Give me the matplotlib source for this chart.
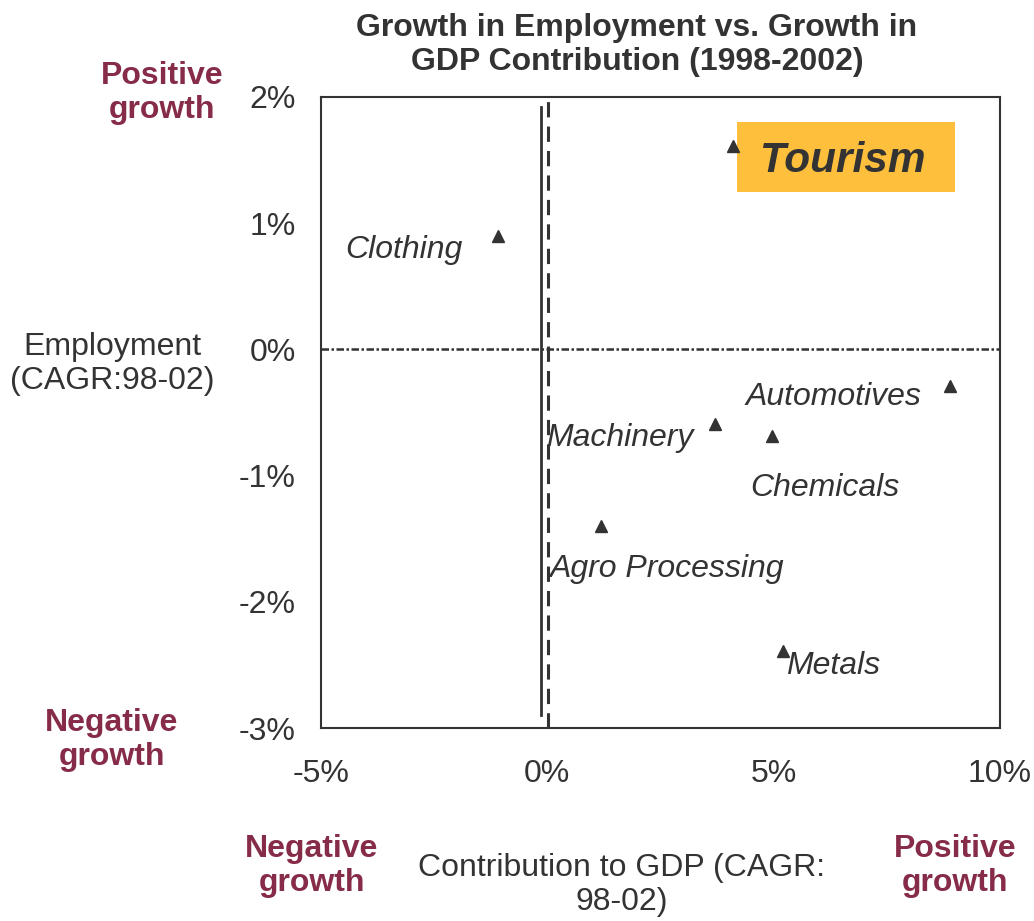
import matplotlib.pyplot as plt
from matplotlib.patches import Rectangle

plt.rcParams['font.family'] = ['Liberation Sans', 'DejaVu Sans']

# sector data: GDP contribution CAGR (%) vs employment CAGR (%)
sectors = ['Tourism', 'Clothing', 'Automotives', 'Machinery', 'Chemicals', 'Agro Processing', 'Metals']
gdp = [4.1, -1.1, 8.9, 3.7, 4.97, 1.19, 5.2]
emp = [1.61, 0.9, -0.29, -0.59, -0.69, -1.40, -2.39]

# label anchor positions (data coords)
lab_x = [6.53, -1.88, 4.39, -0.04, 4.48, 0.04, 5.28]
lab_y = [1.49, 0.79, -0.38, -0.70, -1.10, -1.74, -2.51]

x_ticks = [-5, 0, 5, 10]
y_ticks = [-3, -2, -1, 0, 1, 2]

dark = '#333333'
maroon = '#862C48'

W, H = 1034, 921
fig = plt.figure(figsize=(W / 100, H / 100), dpi=100)
ax = fig.add_axes([321 / W, 1 - 728 / H, (1000 - 321) / W, (728 - 97) / H])

def px(x, y):
    return x / W, 1 - y / H

ax.plot(gdp, emp, linestyle='none', marker='^', markersize=9, color=dark, zorder=5)

# reference lines
ax.plot([-0.13, -0.13], [-2.9, 1.92], color=dark, lw=2)
ax.axvline(0.02, color=dark, lw=2.2, dashes=(5, 3))
ax.axhline(0, color=dark, lw=1.8, dashes=(3, 1, 1, 1))

# tourism highlight box
ax.add_patch(Rectangle((4.19, 1.25), 4.81, 0.55, facecolor='#FDBF3C', edgecolor='none', zorder=4))

fs = 23
for i, name in enumerate(sectors):
    if name == 'Tourism':
        ax.text(lab_x[i], lab_y[i], name, fontsize=30.5, fontweight='bold', fontstyle='italic',
                color=dark, ha='center', va='center', zorder=6)
    elif name == 'Clothing':
        ax.text(lab_x[i], lab_y[i], name, fontsize=fs, fontstyle='italic', color=dark,
                ha='right', va='center', zorder=6)
    else:
        ax.text(lab_x[i], lab_y[i], name, fontsize=fs, fontstyle='italic', color=dark,
                ha='left', va='center', zorder=6)

ax.set_xlim(-5, 10)
ax.set_ylim(-3, 2)
ax.set_xticks(x_ticks)
ax.set_xticklabels([f'{t}%' for t in x_ticks])
ax.set_yticks(y_ticks)
ax.set_yticklabels([f'{t}%' for t in y_ticks])
ax.tick_params(length=0, labelsize=fs, colors=dark)
ax.tick_params(axis='y', pad=18)
ax.tick_params(axis='x', pad=22)
for s in ax.spines.values():
    s.set_color(dark)
    s.set_linewidth(1.5)

fig.text(*px(637, 45), 'Growth in Employment vs. Growth in\nGDP Contribution (1998-2002)',
         fontsize=fs, fontweight='bold', color=dark, ha='center', va='center', linespacing=1.2)
fig.text(*px(112, 364), 'Employment\n(CAGR:98-02)', fontsize=fs, color=dark,
         ha='center', va='center', linespacing=1.2)
fig.text(*px(622, 885), 'Contribution to GDP (CAGR:\n98-02)', fontsize=fs, color=dark,
         ha='center', va='center', linespacing=1.2)

corner = dict(fontsize=fs, fontweight='bold', color=maroon, ha='center', va='center', linespacing=1.2)
fig.text(*px(162, 93), 'Positive\ngrowth', **corner)
fig.text(*px(112, 740), 'Negative\ngrowth', **corner)
fig.text(*px(312, 866), 'Negative\ngrowth', **corner)
fig.text(*px(955, 866), 'Positive\ngrowth', **corner)

fig.savefig('out.png', dpi=100)
